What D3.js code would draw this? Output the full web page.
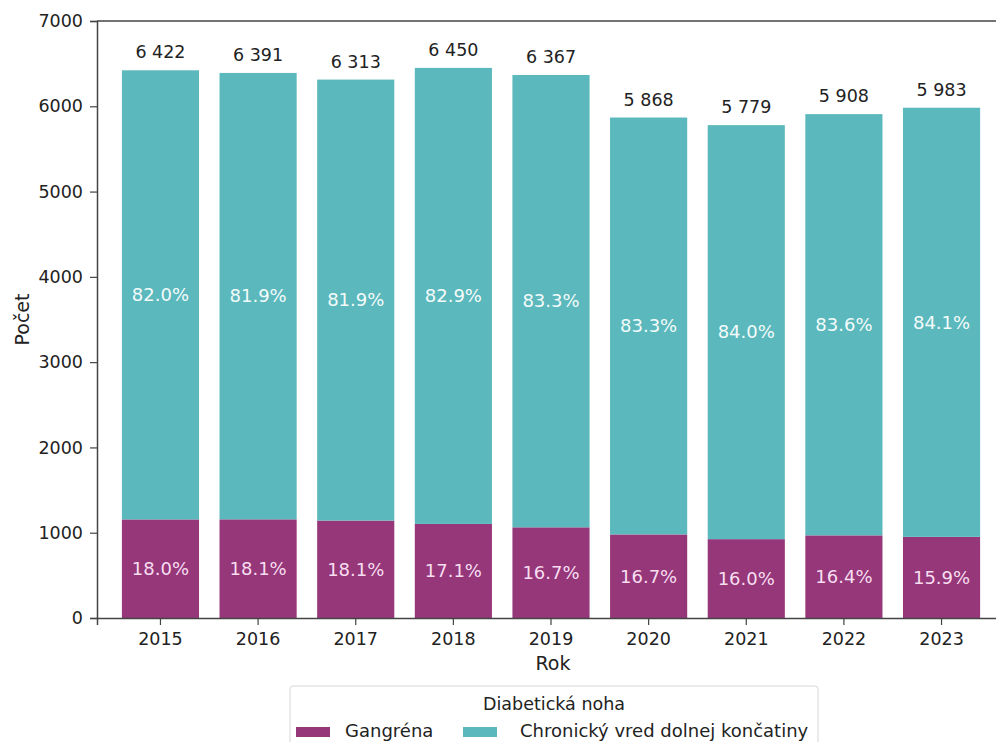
<!DOCTYPE html>
<html>
<head>
<meta charset="utf-8">
<script src="https://cdn.jsdelivr.net/npm/d3@7"></script>
<style>
  body { margin: 0; background: #fff; }
  text { font-family: "DejaVu Sans", sans-serif; }
</style>
</head>
<body>
<div id="chart"></div>
<script>
// data
const years = ["2015","2016","2017","2018","2019","2020","2021","2022","2023"];
const totals = [6422, 6391, 6313, 6450, 6367, 5868, 5779, 5908, 5983];
const gangrenaPct = [18.0, 18.1, 18.1, 17.1, 16.7, 16.7, 16.0, 16.4, 15.9];
const vredPct = [82.0, 81.9, 81.9, 82.9, 83.3, 83.3, 84.0, 83.6, 84.1];
const seriesNames = ["Gangréna", "Chronický vred dolnej končatiny"];
const yTicks = [0, 1000, 2000, 3000, 4000, 5000, 6000, 7000];

const colors = ["#953779", "#5bb8bc"];
const width = 996, height = 742;
const margin = {top: 21, right: -9, bottom: 124, left: 97};

const svg = d3.select("#chart").append("svg")
    .attr("width", width)
    .attr("height", height);

const x = d3.scaleBand()
    .domain(years)
    .range([margin.left, width - margin.right])
    .paddingInner(0.21)
    .paddingOuter(0.255);

const y = d3.scaleLinear()
    .domain([0, 7000])
    .range([height - margin.bottom, margin.top]);

const fmt = d => d3.format(",")(d).replace(",", " ");

const rows = years.map((yr, i) => {
    const g = totals[i] * gangrenaPct[i] / 100;
    return {year: yr, total: totals[i], g: g, v: totals[i] - g, gp: gangrenaPct[i], vp: vredPct[i]};
});

const bars = svg.append("g").selectAll("g").data(rows).enter().append("g");

bars.append("rect")
    .attr("x", d => x(d.year))
    .attr("width", x.bandwidth())
    .attr("y", d => y(d.g))
    .attr("height", d => y(0) - y(d.g))
    .attr("fill", colors[0]);

bars.append("rect")
    .attr("x", d => x(d.year))
    .attr("width", x.bandwidth())
    .attr("y", d => y(d.total))
    .attr("height", d => y(d.g) - y(d.total))
    .attr("fill", colors[1]);

bars.append("text")
    .attr("x", d => x(d.year) + x.bandwidth() / 2)
    .attr("y", d => y(d.g / 2))
    .attr("dy", "0.35em")
    .attr("text-anchor", "middle")
    .attr("fill", "#f8def0")
    .attr("font-size", 18)
    .text(d => d.gp.toFixed(1) + "%");

bars.append("text")
    .attr("x", d => x(d.year) + x.bandwidth() / 2)
    .attr("y", d => y(d.g + d.v / 2))
    .attr("dy", "0.35em")
    .attr("text-anchor", "middle")
    .attr("fill", "#f4fbfb")
    .attr("font-size", 18)
    .text(d => d.vp.toFixed(1) + "%");

bars.append("text")
    .attr("x", d => x(d.year) + x.bandwidth() / 2)
    .attr("y", d => y(d.total) - 12)
    .attr("text-anchor", "middle")
    .attr("fill", "#222")
    .attr("font-size", 17.5)
    .text(d => fmt(d.total));

// axes
const xAxis = svg.append("g")
    .attr("transform", `translate(0,${y(0)})`)
    .call(d3.axisBottom(x).tickSize(7).tickPadding(8));
const yAxis = svg.append("g")
    .attr("transform", `translate(${margin.left},0)`)
    .call(d3.axisLeft(y).tickValues(yTicks).tickFormat(d3.format("d")).tickSize(7).tickPadding(7));

[xAxis, yAxis].forEach(a => {
    a.selectAll("text").attr("font-size", 17.5).attr("fill", "#222").style("font-family", "DejaVu Sans");
    a.selectAll("line").attr("stroke", "#444").attr("stroke-width", 1.2);
    a.select(".domain").attr("stroke", "#444").attr("stroke-width", 1.5);
});

// top spine
svg.append("line")
    .attr("x1", margin.left).attr("x2", width)
    .attr("y1", y(7000)).attr("y2", y(7000))
    .attr("stroke", "#444").attr("stroke-width", 1.5);

svg.append("text")
    .attr("x", 553)
    .attr("y", 670)
    .attr("text-anchor", "middle")
    .attr("font-size", 19)
    .attr("fill", "#222")
    .text("Rok");

svg.append("text")
    .attr("transform", `translate(29,${(y(0) + y(7000)) / 2}) rotate(-90)`)
    .attr("text-anchor", "middle")
    .attr("font-size", 19)
    .attr("fill", "#222")
    .text("Počet");

// legend
const lg = svg.append("g").attr("transform", "translate(290,686)");
lg.append("rect")
    .attr("width", 528).attr("height", 70).attr("rx", 3)
    .attr("fill", "#fff").attr("stroke", "#d6d6d6");
lg.append("text")
    .attr("x", 264).attr("y", 24)
    .attr("text-anchor", "middle")
    .attr("font-size", 17.5).attr("fill", "#222")
    .text("Diabetická noha");
const items = [{x: 6, tx: 55}, {x: 173, tx: 230}];
seriesNames.forEach((n, i) => {
    lg.append("rect")
        .attr("x", items[i].x).attr("y", 41)
        .attr("width", 34).attr("height", 10)
        .attr("fill", colors[i]);
    lg.append("text")
        .attr("x", items[i].tx).attr("y", 51)
        .attr("font-size", 18).attr("fill", "#222")
        .text(n);
});
</script>
</body>
</html>
